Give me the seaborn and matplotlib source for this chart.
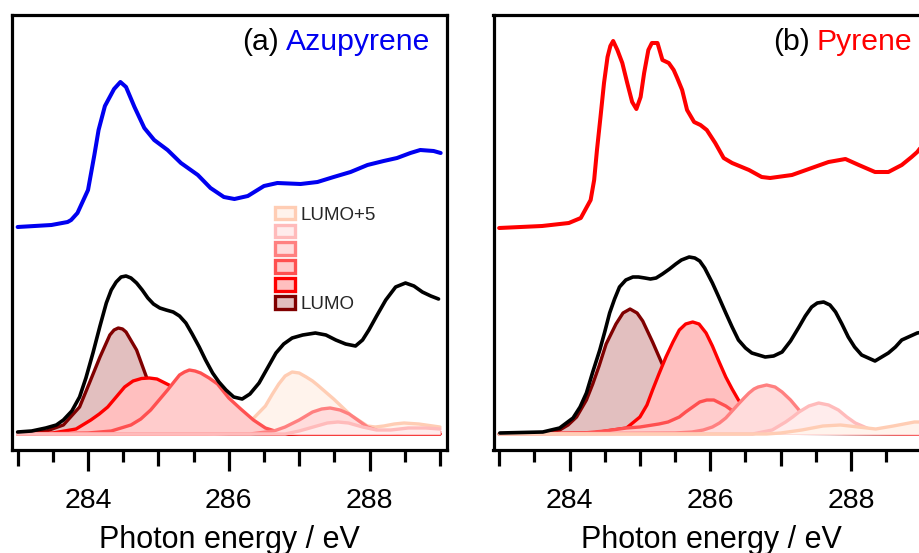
import numpy as np
import pandas as pd
import matplotlib
matplotlib.use("Agg")
import matplotlib.pyplot as plt
import seaborn as sns
from matplotlib.ticker import FixedLocator, MultipleLocator
from matplotlib.patches import Patch
from matplotlib.offsetbox import TextArea, HPacker, AnchoredOffsetbox

sns.set_theme(style="white")
plt.rcParams["font.family"] = ["Liberation Sans", "DejaVu Sans"]

# ---------------- data: panel (a) Azupyrene ----------------
blue_a_x = [283.00, 283.48, 283.71, 283.76, 283.85, 284.00, 284.09, 284.15, 284.24, 284.37, 284.46, 284.54,
            284.66, 284.80, 284.94, 285.13, 285.32, 285.56, 285.74, 285.93, 286.08, 286.27, 286.50, 286.69,
            287.02, 287.26, 287.49, 287.73, 287.97, 288.20, 288.39, 288.58, 288.72, 288.91, 289.01]
blue_a_y = [2.07, 2.09, 2.12, 2.14, 2.21, 2.44, 2.79, 3.04, 3.28, 3.45, 3.52, 3.47,
            3.27, 3.06, 2.94, 2.84, 2.71, 2.59, 2.46, 2.37, 2.35, 2.38, 2.48, 2.51,
            2.50, 2.52, 2.57, 2.62, 2.69, 2.73, 2.76, 2.81, 2.84, 2.83, 2.81]

black_a_x = [283.00, 283.20, 283.40, 283.55, 283.65, 283.77, 283.88, 283.97, 284.07, 284.17, 284.26, 284.33,
             284.40, 284.47, 284.54, 284.61, 284.69, 284.77, 284.85, 284.93, 285.02, 285.11, 285.21, 285.30,
             285.39, 285.48, 285.58, 285.67, 285.77, 285.86, 285.96, 286.07, 286.19, 286.30, 286.43, 286.55,
             286.67, 286.78, 286.90, 287.05, 287.23, 287.38, 287.52, 287.66, 287.80, 287.90, 287.99, 288.10,
             288.23, 288.37, 288.51, 288.63, 288.75, 288.87, 288.98]
black_a_y = [0.02, 0.03, 0.06, 0.09, 0.14, 0.23, 0.37, 0.56, 0.81, 1.08, 1.31, 1.44,
             1.52, 1.57, 1.58, 1.56, 1.51, 1.44, 1.36, 1.30, 1.26, 1.24, 1.22, 1.18,
             1.11, 1.00, 0.87, 0.74, 0.61, 0.52, 0.44, 0.37, 0.35, 0.40, 0.51, 0.66,
             0.81, 0.90, 0.96, 0.99, 1.01, 0.99, 0.94, 0.90, 0.88, 0.94, 1.04, 1.18,
             1.34, 1.47, 1.51, 1.48, 1.42, 1.38, 1.35]

lumo0_a_x = [283.00, 283.41, 283.65, 283.88, 284.02, 284.17, 284.31, 284.37, 284.43, 284.49, 284.54, 284.69,
             284.83, 285.00, 285.20, 285.40, 285.70, 286.00, 289.00]
lumo0_a_y = [0.01, 0.03, 0.09, 0.27, 0.51, 0.77, 0.99, 1.04, 1.06, 1.05, 1.02, 0.84,
             0.57, 0.33, 0.15, 0.06, 0.01, 0.00, 0.00]
lumo1_a_x = [283.00, 283.50, 283.83, 284.04, 284.16, 284.28, 284.40, 284.52, 284.64, 284.76, 284.87, 284.98,
             285.15, 285.35, 285.60, 285.85, 286.10, 286.50, 289.00]
lumo1_a_y = [0.00, 0.01, 0.05, 0.14, 0.20, 0.27, 0.37, 0.47, 0.53, 0.555, 0.56, 0.55,
             0.49, 0.37, 0.20, 0.08, 0.02, 0.00, 0.00]
lumo2_a_x = [283.00, 284.00, 284.33, 284.61, 284.75, 284.89, 285.01, 285.13, 285.22, 285.30, 285.37, 285.44,
             285.52, 285.60, 285.72, 285.84, 286.00, 286.17, 286.35, 286.52, 286.70, 287.00, 289.00]
lumo2_a_y = [0.00, 0.01, 0.03, 0.09, 0.15, 0.24, 0.34, 0.44, 0.52, 0.59, 0.62, 0.64,
             0.63, 0.61, 0.56, 0.50, 0.36, 0.25, 0.14, 0.06, 0.02, 0.00, 0.00]
lumo3_a_x = [283.00, 286.30, 286.64, 286.80, 287.00, 287.19, 287.32, 287.44, 287.58, 287.71, 287.85, 287.97,
             288.13, 288.40, 288.70, 289.00]
lumo3_a_y = [0.00, 0.00, 0.03, 0.07, 0.14, 0.22, 0.25, 0.26, 0.24, 0.20, 0.13, 0.07,
             0.03, 0.01, 0.03, 0.02]
lumo4_a_x = [283.00, 286.80, 287.00, 287.20, 287.40, 287.55, 287.70, 287.90, 288.10, 288.30, 288.55, 288.80, 289.00]
lumo4_a_y = [0.00, 0.00, 0.03, 0.07, 0.11, 0.12, 0.11, 0.07, 0.04, 0.04, 0.06, 0.06, 0.05]
lumo5_a_x = [283.00, 285.70, 285.95, 286.15, 286.34, 286.52, 286.62, 286.71, 286.80, 286.90, 287.00, 287.10,
             287.19, 287.26, 287.49, 287.73, 287.97, 288.08, 288.20, 288.35, 288.49, 288.70, 288.90, 289.00]
lumo5_a_y = [0.00, 0.00, 0.02, 0.06, 0.15, 0.28, 0.40, 0.50, 0.58, 0.62, 0.61, 0.57,
             0.53, 0.49, 0.35, 0.19, 0.08, 0.07, 0.08, 0.10, 0.11, 0.10, 0.08, 0.07]

# ---------------- data: panel (b) Pyrene ----------------
red_b_x = [283.00, 283.61, 283.99, 284.16, 284.23, 284.30, 284.35, 284.39, 284.44, 284.49, 284.54, 284.58,
           284.62, 284.68, 284.75, 284.82, 284.89, 284.95, 285.01, 285.06, 285.12, 285.17, 285.25, 285.32,
           285.41, 285.48, 285.53, 285.60, 285.67, 285.77, 285.86, 285.95, 286.07, 286.19, 286.31, 286.55,
           286.73, 286.85, 287.16, 287.44, 287.68, 287.92, 288.11, 288.34, 288.53, 288.72, 288.86, 288.94, 289.05]
red_b_y = [2.06, 2.08, 2.11, 2.16, 2.25, 2.34, 2.54, 2.84, 3.17, 3.51, 3.77, 3.88,
           3.93, 3.84, 3.71, 3.51, 3.32, 3.25, 3.37, 3.61, 3.84, 3.91, 3.91, 3.74,
           3.71, 3.64, 3.56, 3.44, 3.24, 3.12, 3.09, 3.04, 2.91, 2.76, 2.71, 2.64,
           2.57, 2.56, 2.59, 2.66, 2.72, 2.75, 2.69, 2.62, 2.62, 2.69, 2.77, 2.82, 2.92]

black_b_x = [283.01, 283.62, 283.86, 284.05, 284.15, 284.24, 284.33, 284.43, 284.50, 284.57, 284.64, 284.71,
             284.80, 284.90, 284.98, 285.07, 285.15, 285.23, 285.32, 285.42, 285.51, 285.59, 285.70, 285.78,
             285.85, 285.92, 286.03, 286.12, 286.22, 286.31, 286.40, 286.50, 286.59, 286.78, 286.90, 287.02,
             287.14, 287.26, 287.35, 287.44, 287.52, 287.61, 287.70, 287.78, 287.87, 287.96, 288.05, 288.15,
             288.34, 288.53, 288.63, 288.72, 288.94, 289.10]
black_b_y = [0.01, 0.02, 0.06, 0.16, 0.27, 0.41, 0.62, 0.84, 1.02, 1.21, 1.35, 1.47,
             1.54, 1.57, 1.57, 1.56, 1.55, 1.56, 1.60, 1.65, 1.70, 1.74, 1.77, 1.76,
             1.73, 1.66, 1.51, 1.37, 1.21, 1.07, 0.94, 0.86, 0.81, 0.77, 0.78, 0.82,
             0.93, 1.07, 1.18, 1.27, 1.31, 1.32, 1.29, 1.22, 1.10, 0.97, 0.87, 0.79,
             0.73, 0.81, 0.87, 0.94, 1.01, 1.03]

lumo0_b_x = [283.00, 283.60, 283.86, 283.98, 284.10, 284.24, 284.33, 284.42, 284.52, 284.66, 284.76, 284.86,
             284.96, 285.04, 285.18, 285.31, 285.45, 285.60, 285.80, 286.00, 286.30, 289.10]
lumo0_b_y = [0.00, 0.01, 0.04, 0.09, 0.17, 0.34, 0.50, 0.68, 0.90, 1.10, 1.21, 1.25,
             1.21, 1.13, 0.92, 0.71, 0.50, 0.30, 0.13, 0.05, 0.01, 0.00]
lumo1_b_x = [283.00, 284.33, 284.81, 285.00, 285.10, 285.18, 285.27, 285.37, 285.47, 285.56, 285.65, 285.75,
             285.84, 285.94, 286.03, 286.12, 286.22, 286.31, 286.40, 286.60, 286.80, 287.00, 289.10]
lumo1_b_y = [0.00, 0.01, 0.06, 0.17, 0.29, 0.44, 0.60, 0.77, 0.92, 1.04, 1.10, 1.12,
             1.10, 1.01, 0.88, 0.73, 0.57, 0.45, 0.34, 0.15, 0.06, 0.02, 0.00]
lumo2_b_x = [283.00, 284.20, 284.50, 284.81, 285.00, 285.18, 285.27, 285.40, 285.56, 285.65, 285.75, 285.85,
             285.95, 286.05, 286.22, 286.38, 286.55, 286.75, 287.00, 289.10]
lumo2_b_y = [0.00, 0.01, 0.03, 0.06, 0.07, 0.09, 0.10, 0.12, 0.17, 0.22, 0.27, 0.32,
             0.34, 0.34, 0.28, 0.20, 0.11, 0.04, 0.01, 0.00]
lumo3_b_x = [283.00, 285.50, 285.74, 285.90, 286.03, 286.13, 286.22, 286.31, 286.40, 286.48, 286.55, 286.62,
             286.68, 286.80, 286.92, 287.02, 287.14, 287.26, 287.45, 287.65, 287.90, 289.10]
lumo3_b_y = [0.00, 0.01, 0.02, 0.04, 0.07, 0.11, 0.16, 0.23, 0.30, 0.36, 0.41, 0.45,
             0.47, 0.49, 0.47, 0.42, 0.34, 0.24, 0.12, 0.05, 0.01, 0.00]
lumo4_b_x = [283.00, 286.60, 286.88, 287.07, 287.17, 287.26, 287.40, 287.54, 287.68, 287.82, 287.94, 288.06,
             288.29, 288.50, 288.70, 288.90, 289.10]
lumo4_b_y = [0.00, 0.00, 0.04, 0.12, 0.17, 0.22, 0.28, 0.31, 0.29, 0.24, 0.17, 0.11,
             0.04, 0.03, 0.04, 0.05, 0.05]
lumo5_b_x = [283.00, 286.80, 287.00, 287.30, 287.60, 287.85, 288.10, 288.35, 288.60, 288.90, 289.10]
lumo5_b_y = [0.00, 0.00, 0.01, 0.04, 0.08, 0.09, 0.07, 0.05, 0.08, 0.12, 0.12]

orbital_labels = ["LUMO", "LUMO+1", "LUMO+2", "LUMO+3", "LUMO+4", "LUMO+5"]
xtick_major = [284, 286, 288]
xtick_mid = [283, 285, 287, 289]

# ---------------- styles ----------------
line_colors = ["#800000", "#FF0000", "#FF5050", "#FF8080", "#FFBBBB", "#FFCDB4"]
fill_colors = ["#E2BFBF", "#FFBFBF", "#FFCCCC", "#FFDCDC", "#FFECEC", "#FFF3EC"]
LW_SPINE = 2.3
LW_COMP = 2.4
LW_CALC = 2.6
LW_EXP = 2.9

W, H = 919, 553
fig = plt.figure(figsize=(W / 100, H / 100), dpi=100)
ax_a = fig.add_axes([12 / W, 103 / H, 435 / W, 435 / H])
ax_b = fig.add_axes([493.5 / W, 103 / H, 435 / W, 435 / H])

LINE_KW = dict(estimator=None, sort=False, solid_joinstyle="round", solid_capstyle="round")


def draw_panel(ax, comps, order, exp_x, exp_y, exp_color, calc_x, calc_y):
    for k, idx in enumerate(order):
        cx, cy = comps[idx]
        ax.fill_between(cx, 0, cy, color=fill_colors[idx], lw=0, zorder=2 + 2 * k)
        sns.lineplot(x=cx, y=cy, ax=ax, color=line_colors[idx], lw=LW_COMP, zorder=2.5 + 2 * k, **LINE_KW)
    sns.lineplot(x=calc_x, y=calc_y, ax=ax, color="black", lw=LW_CALC, zorder=30, **LINE_KW)
    sns.lineplot(x=exp_x, y=exp_y, ax=ax, color=exp_color, lw=LW_EXP, zorder=31, **LINE_KW)

    ax.set_xlim(282.92, 289.10)
    ax.set_ylim(-0.16, 4.19)
    for s in ax.spines.values():
        s.set_visible(True)
        s.set_color("black")
        s.set_linewidth(LW_SPINE)
    ax.xaxis.set_major_locator(FixedLocator(xtick_major))
    ax.xaxis.set_minor_locator(MultipleLocator(1.0, offset=0.5))
    ax.tick_params(axis="x", which="major", bottom=True, direction="out", length=15, width=LW_SPINE,
                   labelsize=20.5, pad=12.5, color="black", labelcolor="black")
    ax.tick_params(axis="x", which="minor", bottom=True, direction="out", length=8.5, width=LW_SPINE,
                   color="black")
    ax.tick_params(axis="y", left=False, labelleft=False)
    ax.set_yticks([])
    ax.set_xlabel("Photon energy / eV", fontsize=22, labelpad=8, color="black")
    sec = ax.secondary_xaxis("bottom")
    sec.set_xticks(xtick_mid)
    sec.tick_params(axis="x", which="major", bottom=True, direction="out", length=11.5, width=LW_SPINE,
                    labelbottom=False, color="black")
    sec.tick_params(axis="x", which="minor", bottom=False)
    sec.spines["bottom"].set_visible(False)


comps_a = [(lumo0_a_x, lumo0_a_y), (lumo1_a_x, lumo1_a_y), (lumo2_a_x, lumo2_a_y),
           (lumo3_a_x, lumo3_a_y), (lumo4_a_x, lumo4_a_y), (lumo5_a_x, lumo5_a_y)]
comps_b = [(lumo0_b_x, lumo0_b_y), (lumo1_b_x, lumo1_b_y), (lumo2_b_x, lumo2_b_y),
           (lumo3_b_x, lumo3_b_y), (lumo4_b_x, lumo4_b_y), (lumo5_b_x, lumo5_b_y)]

draw_panel(ax_a, comps_a, [5, 0, 1, 2, 3, 4], blue_a_x, blue_a_y, "#0000F0", black_a_x, black_a_y)
draw_panel(ax_b, comps_b, [0, 1, 2, 3, 4, 5], red_b_x, red_b_y, "#FF0000", black_b_x, black_b_y)


def panel_title(ax, tag, name, color):
    box = HPacker(children=[TextArea(tag, textprops=dict(color="black", size=21.7)),
                            TextArea(name, textprops=dict(color=color, size=21.7))],
                  align="baseline", pad=0, sep=5)
    anc = AnchoredOffsetbox(loc="upper right", child=box, pad=0, borderpad=0, frameon=False,
                            bbox_to_anchor=(0.962, 0.970), bbox_transform=ax.transAxes)
    anc.set_zorder(40)
    ax.add_artist(anc)


panel_title(ax_a, "(a)", "Azupyrene", "#0000F0")
panel_title(ax_b, "(b)", "Pyrene", "#FF0000")

# legend (top LUMO+5 ... bottom LUMO)
handles = [Patch(facecolor=fill_colors[i], edgecolor=line_colors[i], linewidth=LW_COMP) for i in range(5, -1, -1)]
leg_labels = [orbital_labels[5], " ", " ", " ", " ", orbital_labels[0]]
leg = ax_a.legend(handles, leg_labels, loc="upper left",
                  bbox_to_anchor=((274.5 - 12) / 435, (450 - 206.5) / 435),
                  frameon=False, fontsize=13.5, handlelength=1.08, handleheight=0.66,
                  handletextpad=0.3, labelspacing=0.05, borderpad=0, borderaxespad=0)
leg.set_zorder(40)

fig.savefig("out.png", dpi=100)
